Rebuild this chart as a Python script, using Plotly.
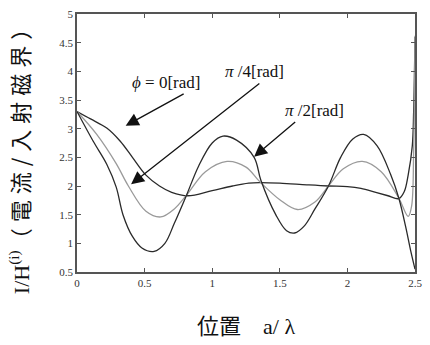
import plotly.graph_objects as go

# ---- data ----
x_phi0 = [0, 0.1, 0.22, 0.32, 0.41, 0.51, 0.61, 0.7, 0.82, 1.0, 1.15, 1.27, 1.35, 1.5, 1.7, 1.86, 2.0, 2.1, 2.21, 2.3, 2.38, 2.42, 2.45, 2.48, 2.49, 2.5]
y_phi0 = [3.30, 3.17, 3.01, 2.78, 2.5, 2.19, 2.0, 1.89, 1.83, 1.92, 2.0, 2.05, 2.06, 2.05, 2.02, 2.0, 1.99, 1.96, 1.89, 1.83, 1.78, 1.9, 2.2, 2.7, 3.3, 4.6]

x_pi4 = [0, 0.146, 0.29, 0.38, 0.51, 0.62, 0.72, 0.81, 0.95, 1.11, 1.25, 1.35, 1.5, 1.63, 1.76, 1.86, 1.97, 2.11, 2.25, 2.38, 2.45, 2.475, 2.49, 2.5]
y_pi4 = [3.30, 2.9, 2.39, 2.0, 1.56, 1.46, 1.6, 1.84, 2.25, 2.43, 2.33, 2.08, 1.76, 1.59, 1.72, 2.0, 2.3, 2.43, 2.25, 1.79, 1.47, 1.65, 2.6, 4.62]

x_pi2 = [0, 0.12, 0.22, 0.29, 0.34, 0.41, 0.48, 0.57, 0.65, 0.72, 0.81, 0.9, 1.0, 1.08, 1.18, 1.31, 1.36, 1.47, 1.55, 1.61, 1.68, 1.76, 1.86, 1.95, 2.04, 2.12, 2.22, 2.32, 2.38, 2.43, 2.47, 2.5]
y_pi2 = [3.30, 2.78, 2.38, 1.98, 1.5, 1.12, 0.92, 0.86, 1.0, 1.35, 1.84, 2.35, 2.75, 2.87, 2.8, 2.5, 2.1, 1.5, 1.22, 1.18, 1.3, 1.6, 2.0, 2.5, 2.82, 2.9, 2.7, 2.2, 1.79, 1.3, 0.85, 0.55]

x_ticks = [0, 0.5, 1, 1.5, 2, 2.5]
x_tick_labels = ["0", "0.5", "1", "1.5", "2", "2.5"]
y_ticks = [0.5, 1, 1.5, 2, 2.5, 3, 3.5, 4, 4.5, 5]
y_tick_labels = ["0.5", "1", "1.5", "2", "2.5", "3", "3.5", "4", "4.5", "5"]

labels = ["<i>ϕ</i> = 0[rad]", "<i>π</i> /4[rad]", "<i>π</i> /2[rad]"]
label_pos = [(0.66, 3.80), (1.31, 3.99), (1.76, 3.32)]
arrow_tail = [(0.80, 3.62), (1.36, 3.81), (1.625, 3.14)]
arrow_head = [(0.36, 3.05), (0.40, 2.03), (1.31, 2.51)]

SERIF = "Liberation Serif"
CJK = "Noto Sans CJK JP"

fig = go.Figure()
for xs, ys, col in [(x_phi0, y_phi0, "#2a2a2a"), (x_pi4, y_pi4, "#9a9a9a"), (x_pi2, y_pi2, "#2a2a2a")]:
    fig.add_trace(go.Scatter(x=xs, y=ys, mode="lines",
                             line=dict(color=col, width=1.3, shape="spline", smoothing=1.0),
                             showlegend=False, hoverinfo="skip", cliponaxis=True))

for t, (tx, ty) in zip(labels, label_pos):
    fig.add_annotation(x=tx, y=ty, text=t, showarrow=False,
                       font=dict(family=SERIF, size=17, color="#111"))
for (ax, ay), (hx, hy) in zip(arrow_tail, arrow_head):
    fig.add_annotation(x=hx, y=hy, ax=ax, ay=ay, axref="x", ayref="y", text="",
                       showarrow=True, arrowhead=2, arrowsize=2, arrowwidth=1.3,
                       arrowcolor="#111", standoff=0, startstandoff=0)

# axis titles
fig.add_annotation(xref="paper", yref="paper", x=-0.172, y=0.46, xanchor="center", yanchor="middle",
                   textangle=-90,
                   text=(f"<span style='font-family:{SERIF}'>I/H<sup>(i)</sup></span>"
                         "<span style='letter-spacing:6px'>（電流/入射磁界）</span>"),
                   showarrow=False, font=dict(family=CJK, size=22, color="#111"))
fig.add_annotation(xref="paper", yref="paper", x=0.5, y=-0.2, xanchor="center", yanchor="middle",
                   text=f"位置　<span style='font-family:{SERIF}'>a/ λ</span>",
                   showarrow=False, font=dict(family=CJK, size=22, color="#111"))

axis_common = dict(showgrid=False, zeroline=False, showline=True, linecolor="#555", linewidth=1.5,
                   mirror="ticks", ticks="inside", ticklen=4, tickcolor="#555",
                   tickfont=dict(family=SERIF, size=11, color="#333"))
fig.update_xaxes(range=[0, 2.5], tickvals=x_ticks, ticktext=x_tick_labels, **axis_common)
fig.update_yaxes(range=[0.5, 5], tickvals=y_ticks, ticktext=y_tick_labels, **axis_common)

fig.update_layout(width=430, height=345, margin=dict(l=77, r=10, t=8, b=73),
                  plot_bgcolor="white", paper_bgcolor="white")
fig.write_html("out.html", config={"displayModeBar": False},
               post_script="document.body.style.margin='0';")
